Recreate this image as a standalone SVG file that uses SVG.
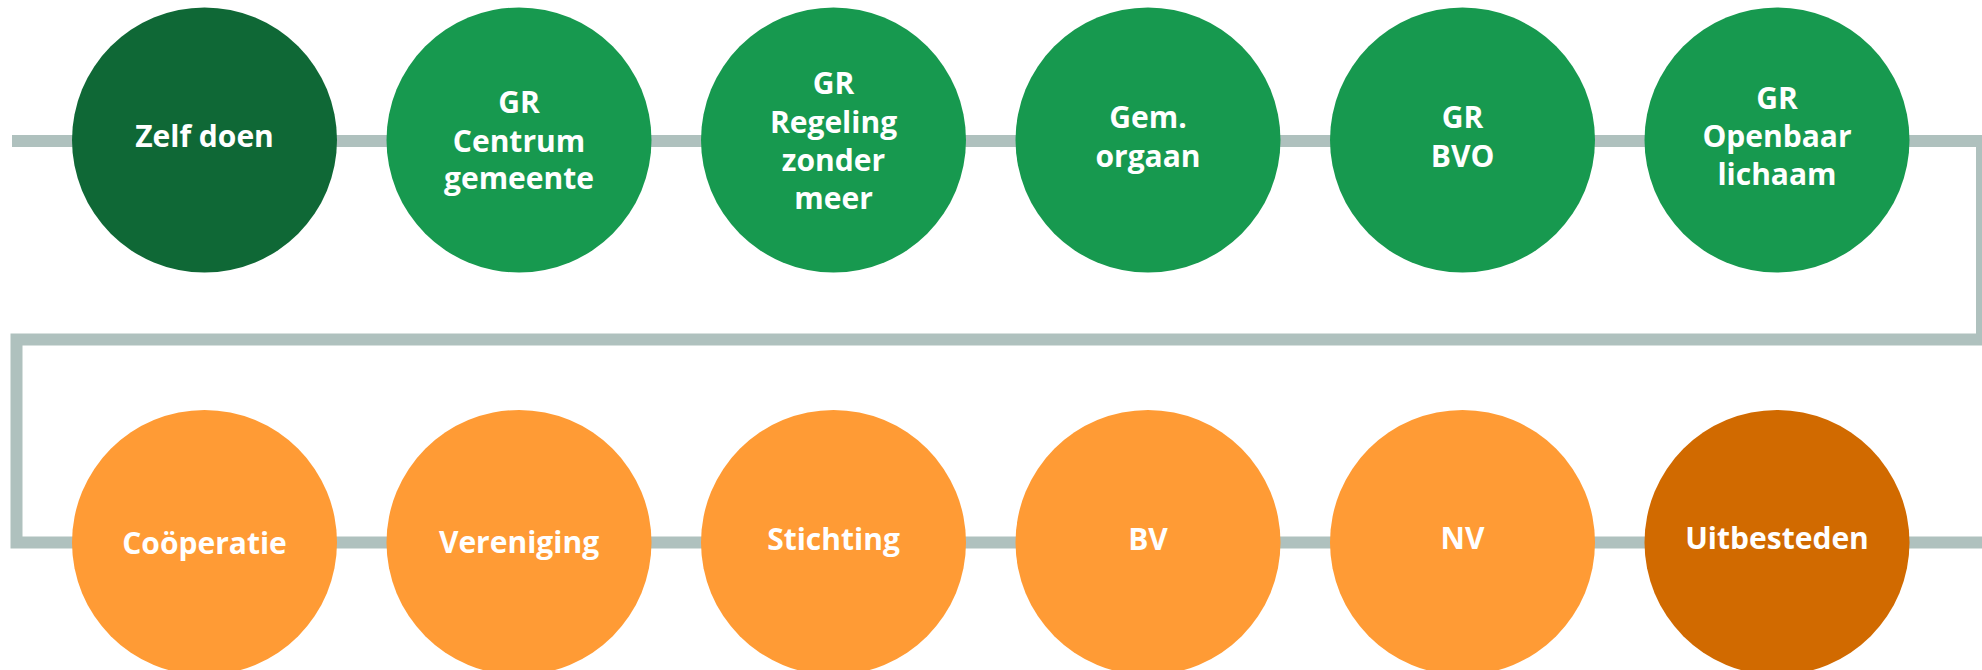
<svg xmlns="http://www.w3.org/2000/svg" width="1982" height="670" viewBox="0 0 1982 670">
<style>
.ln{fill:none;stroke:#AFC1BE;stroke-width:12;stroke-linejoin:miter}
.t{font-family:"Open Sans","Liberation Sans",sans-serif;font-weight:700;font-size:30px;fill:#FFFFFF;text-anchor:middle}
.g{fill:#17994F}
.dg{fill:#0F6836}
.o{fill:#FF9B35}
.do{fill:#D16A00}
</style>
<rect width="1982" height="670" fill="#FFFFFF"/>
<g id="connectors">
<path class="ln" d="M12,141 H1982 V339.5 H16.5 V542.5 H1982"/>
</g>
<g id="n1"><circle class="dg" cx="204.5" cy="140" r="132.5"/><text class="t" x="204.5" y="147">Zelf doen</text></g>
<g id="n2"><circle class="g" cx="519" cy="140" r="132.5"/><text class="t" x="519"><tspan x="519" y="113">GR</tspan><tspan x="519" y="151.5">Centrum</tspan><tspan x="519" y="189">gemeente</tspan></text></g>
<g id="n3"><circle class="g" cx="833.5" cy="140" r="132.5"/><text class="t" x="833.5"><tspan x="833.5" y="94">GR</tspan><tspan x="833.5" y="132.5">Regeling</tspan><tspan x="833.5" y="170.7">zonder</tspan><tspan x="833.5" y="208.5">meer</tspan></text></g>
<g id="n4"><circle class="g" cx="1148" cy="140" r="132.5"/><text class="t" x="1148"><tspan x="1148" y="128.3">Gem.</tspan><tspan x="1148" y="166.7">orgaan</tspan></text></g>
<g id="n5"><circle class="g" cx="1462.5" cy="140" r="132.5"/><text class="t" x="1462.5"><tspan x="1462.5" y="128.3">GR</tspan><tspan x="1462.5" y="166.7">BVO</tspan></text></g>
<g id="n6"><circle class="g" cx="1777" cy="140" r="132.5"/><text class="t" x="1777"><tspan x="1777" y="109">GR</tspan><tspan x="1777" y="147">Openbaar</tspan><tspan x="1777" y="185">lichaam</tspan></text></g>
<g id="n7"><circle class="o" cx="204.5" cy="542.5" r="132.5"/><text class="t" x="204.5" y="554">Coöperatie</text></g>
<g id="n8"><circle class="o" cx="519" cy="542.5" r="132.5"/><text class="t" x="519" y="553">Vereniging</text></g>
<g id="n9"><circle class="o" cx="833.5" cy="542.5" r="132.5"/><text class="t" x="833.5" y="550">Stichting</text></g>
<g id="n10"><circle class="o" cx="1148" cy="542.5" r="132.5"/><text class="t" x="1148" y="550">BV</text></g>
<g id="n11"><circle class="o" cx="1462.5" cy="542.5" r="132.5"/><text class="t" x="1462.5" y="549">NV</text></g>
<g id="n12"><circle class="do" cx="1777" cy="542.5" r="132.5"/><text class="t" x="1777" y="549">Uitbesteden</text></g>
</svg>
